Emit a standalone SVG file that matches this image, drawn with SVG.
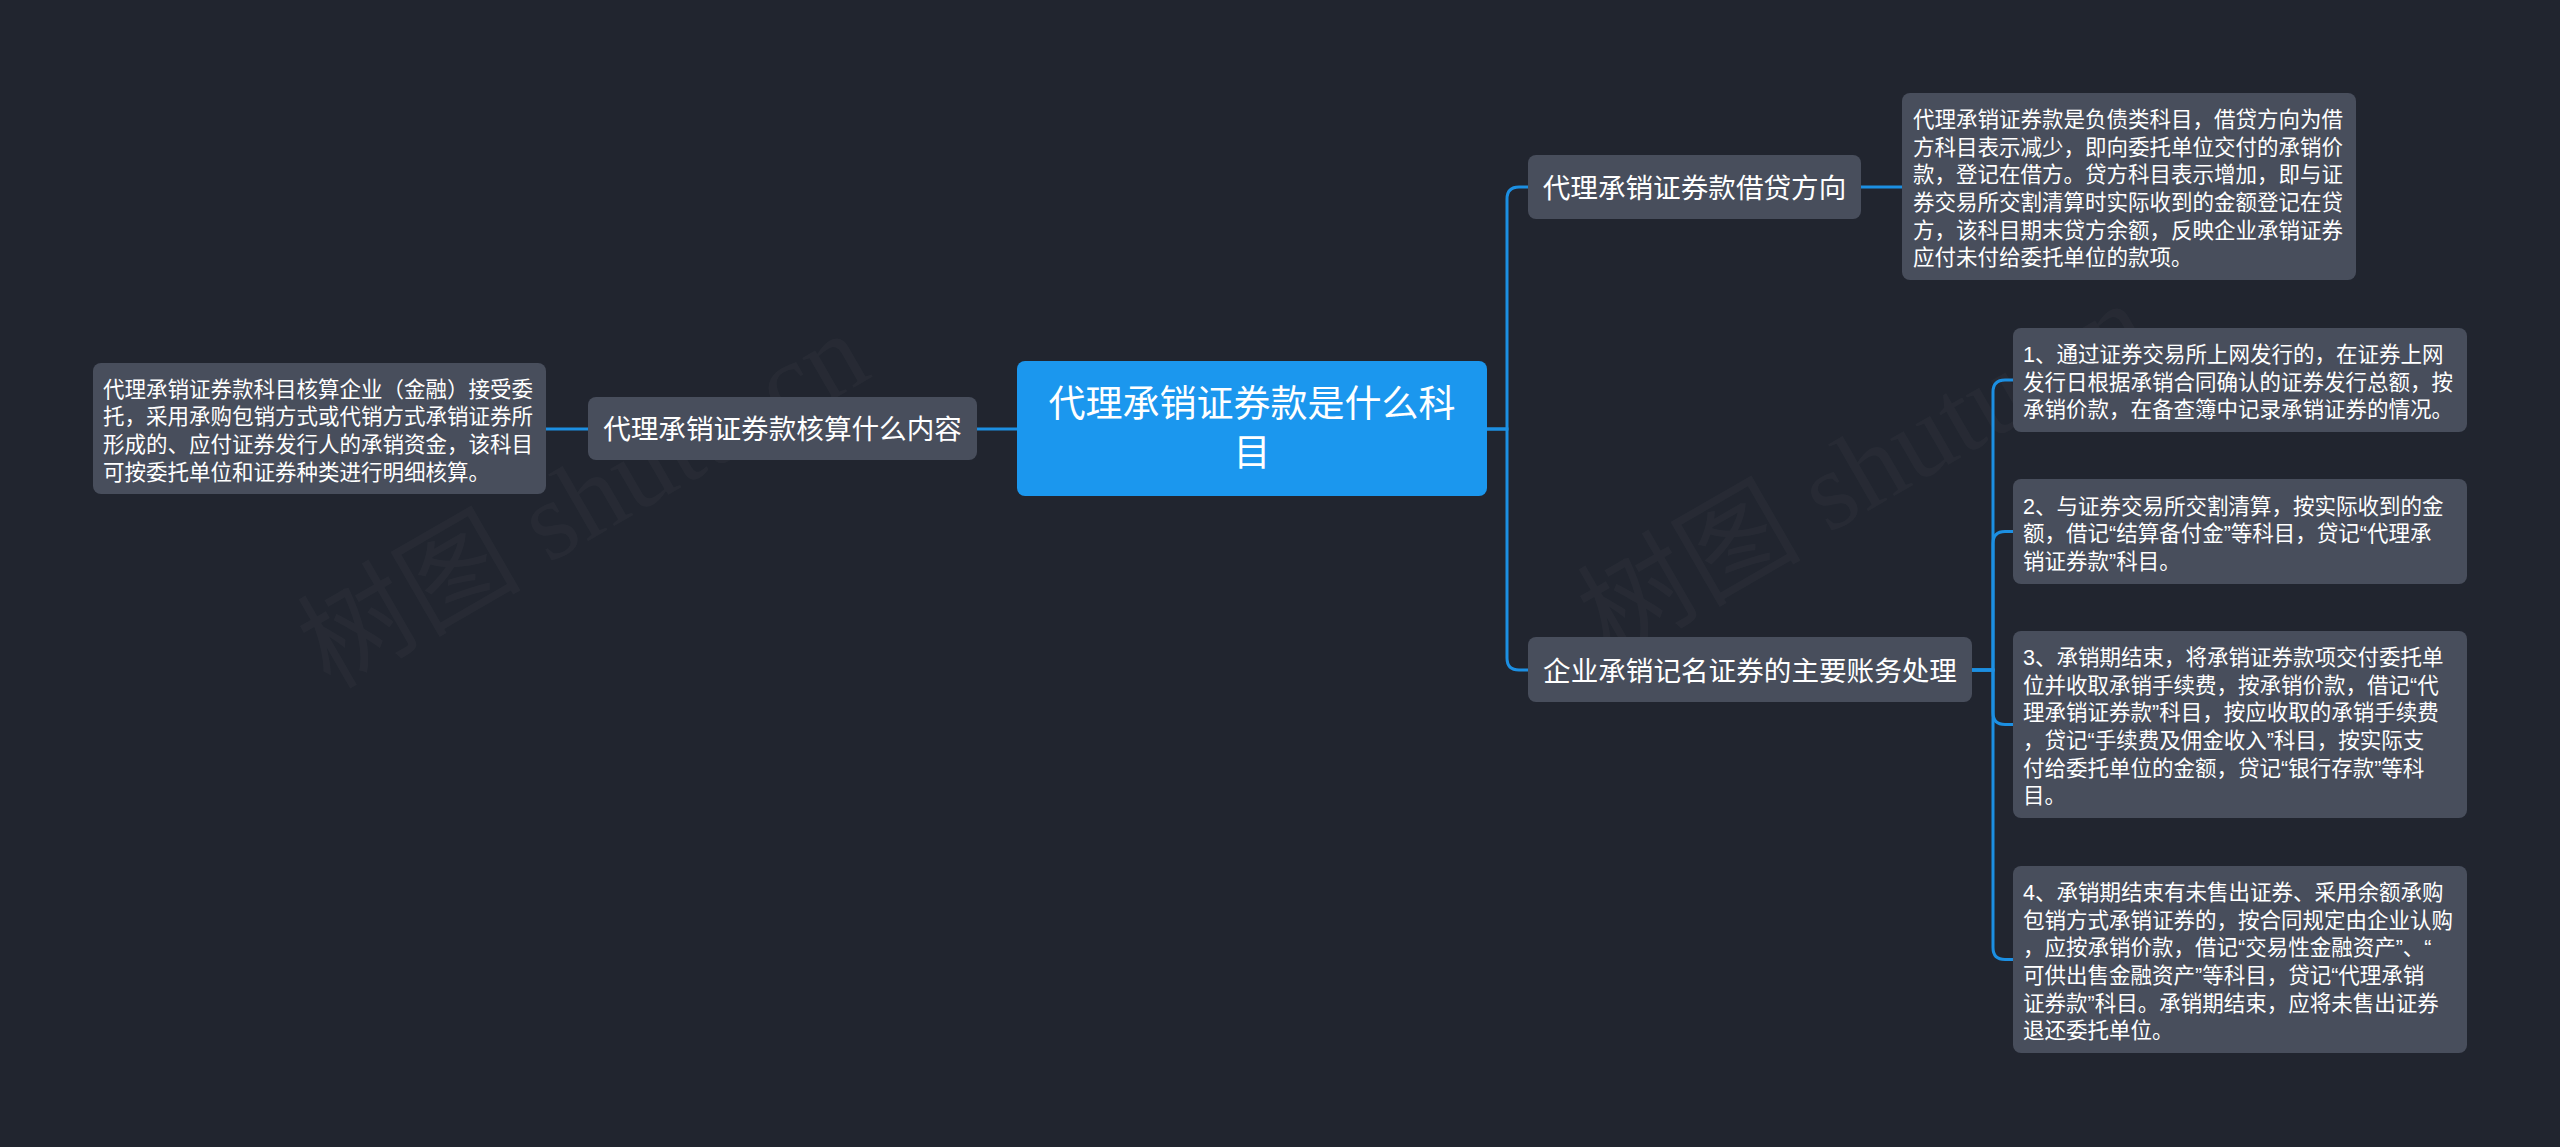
<svg xmlns="http://www.w3.org/2000/svg" width="2560" height="1147" viewBox="0 0 2560 1147">
<style>
.bg{fill:#21252f}
.box{fill:#484e5c}
.root{fill:#1b97ee}
.t{font-family:"Liberation Sans","Noto Sans CJK SC",sans-serif;fill:#ffffff}
.leaf{font-size:21.5px}
.sub{font-size:27.6px;text-anchor:middle}
.main{font-size:37px;text-anchor:middle}
.wm{font-family:"Liberation Serif","Noto Sans CJK SC",serif;font-size:112px;fill:#ffffff;fill-opacity:0.028}
.ln{fill:none;stroke:#1c8fe2;stroke-width:3}
</style>
<rect class="bg" x="0" y="0" width="2560" height="1147"/>
<g id="watermarks">
<text class="wm" transform="translate(330,690) rotate(-30)">树图 shutu.cn</text>
<text class="wm" transform="translate(1610,660) rotate(-30)">树图 shutu.cn</text>
</g>
<g id="connectors">
<path class="ln" d="M1017,429 H977"/>
<path class="ln" d="M588,429 H546"/>
<path class="ln" d="M1487,429 H1507 V199 Q1507,187 1519,187 H1528"/>
<path class="ln" d="M1487,429 H1507 V658 Q1507,670 1519,670 H1528"/>
<path class="ln" d="M1861,187 H1902"/>
<path class="ln" d="M1972,670 H1993 V392 Q1993,380 2005,380 H2013"/>
<path class="ln" d="M1972,670 H1993 V543.5 Q1993,531.5 2005,531.5 H2013"/>
<path class="ln" d="M1972,670 H1993 V712.5 Q1993,724.5 2005,724.5 H2013"/>
<path class="ln" d="M1972,670 H1993 V947.5 Q1993,959.5 2005,959.5 H2013"/>
</g>
<g id="root">
<rect class="root" x="1017" y="361" width="470" height="135" rx="8"/>
<text class="t main" x="1252" y="417">代理承销证券款是什么科</text>
<text class="t main" x="1252" y="466">目</text>
</g>
<g id="node-left">
<rect class="box" x="588" y="397" width="389" height="63" rx="8"/>
<text class="t sub" x="782.5" y="439">代理承销证券款核算什么内容</text>
</g>
<g id="leaf-left">
<rect class="box" x="93" y="363" width="453" height="131" rx="8"/>
<text class="t leaf" x="103" y="396.8"><tspan x="103">代理承销证券款科目核算企业（金融）接受委</tspan><tspan x="103" dy="27.6">托，采用承购包销方式或代销方式承销证券所</tspan><tspan x="103" dy="27.6">形成的、应付证券发行人的承销资金，该科目</tspan><tspan x="103" dy="27.6">可按委托单位和证券种类进行明细核算。</tspan></text>
</g>
<g id="node-direction">
<rect class="box" x="1528" y="155" width="333" height="64" rx="8"/>
<text class="t sub" x="1694.5" y="197.5">代理承销证券款借贷方向</text>
</g>
<g id="leaf-direction">
<rect class="box" x="1902" y="93" width="454" height="187" rx="8"/>
<text class="t leaf" x="1913" y="127.2"><tspan x="1913">代理承销证券款是负债类科目，借贷方向为借</tspan><tspan x="1913" dy="27.6">方科目表示减少，即向委托单位交付的承销价</tspan><tspan x="1913" dy="27.6">款，登记在借方。贷方科目表示增加，即与证</tspan><tspan x="1913" dy="27.6">券交易所交割清算时实际收到的金额登记在贷</tspan><tspan x="1913" dy="27.6">方，该科目期末贷方余额，反映企业承销证券</tspan><tspan x="1913" dy="27.6">应付未付给委托单位的款项。</tspan></text>
</g>
<g id="node-process">
<rect class="box" x="1528" y="637" width="444" height="65" rx="8"/>
<text class="t sub" x="1750" y="680.5">企业承销记名证券的主要账务处理</text>
</g>
<g id="leaf-1">
<rect class="box" x="2013" y="328" width="454" height="104" rx="8"/>
<text class="t leaf" x="2023" y="362.1"><tspan x="2023">1、通过证券交易所上网发行的，在证券上网</tspan><tspan x="2023" dy="27.6">发行日根据承销合同确认的证券发行总额，按</tspan><tspan x="2023" dy="27.6">承销价款，在备查簿中记录承销证券的情况。</tspan></text>
</g>
<g id="leaf-2">
<rect class="box" x="2013" y="479" width="454" height="105" rx="8"/>
<text class="t leaf" x="2023" y="513.6"><tspan x="2023">2、与证券交易所交割清算，按实际收到的金</tspan><tspan x="2023" dy="27.6">额，借记“结算备付金”等科目，贷记“代理承</tspan><tspan x="2023" dy="27.6">销证券款”科目。</tspan></text>
</g>
<g id="leaf-3">
<rect class="box" x="2013" y="631" width="454" height="187" rx="8"/>
<text class="t leaf" x="2023" y="665.2"><tspan x="2023">3、承销期结束，将承销证券款项交付委托单</tspan><tspan x="2023" dy="27.6">位并收取承销手续费，按承销价款，借记“代</tspan><tspan x="2023" dy="27.6">理承销证券款”科目，按应收取的承销手续费</tspan><tspan x="2023" dy="27.6">，贷记“手续费及佣金收入”科目，按实际支</tspan><tspan x="2023" dy="27.6">付给委托单位的金额，贷记“银行存款”等科</tspan><tspan x="2023" dy="27.6">目。</tspan></text>
</g>
<g id="leaf-4">
<rect class="box" x="2013" y="866" width="454" height="187" rx="8"/>
<text class="t leaf" x="2023" y="900.2"><tspan x="2023">4、承销期结束有未售出证券、采用余额承购</tspan><tspan x="2023" dy="27.6">包销方式承销证券的，按合同规定由企业认购</tspan><tspan x="2023" dy="27.6">，应按承销价款，借记“交易性金融资产”、“</tspan><tspan x="2023" dy="27.6">可供出售金融资产”等科目，贷记“代理承销</tspan><tspan x="2023" dy="27.6">证券款”科目。承销期结束，应将未售出证券</tspan><tspan x="2023" dy="27.6">退还委托单位。</tspan></text>
</g>
</svg>
